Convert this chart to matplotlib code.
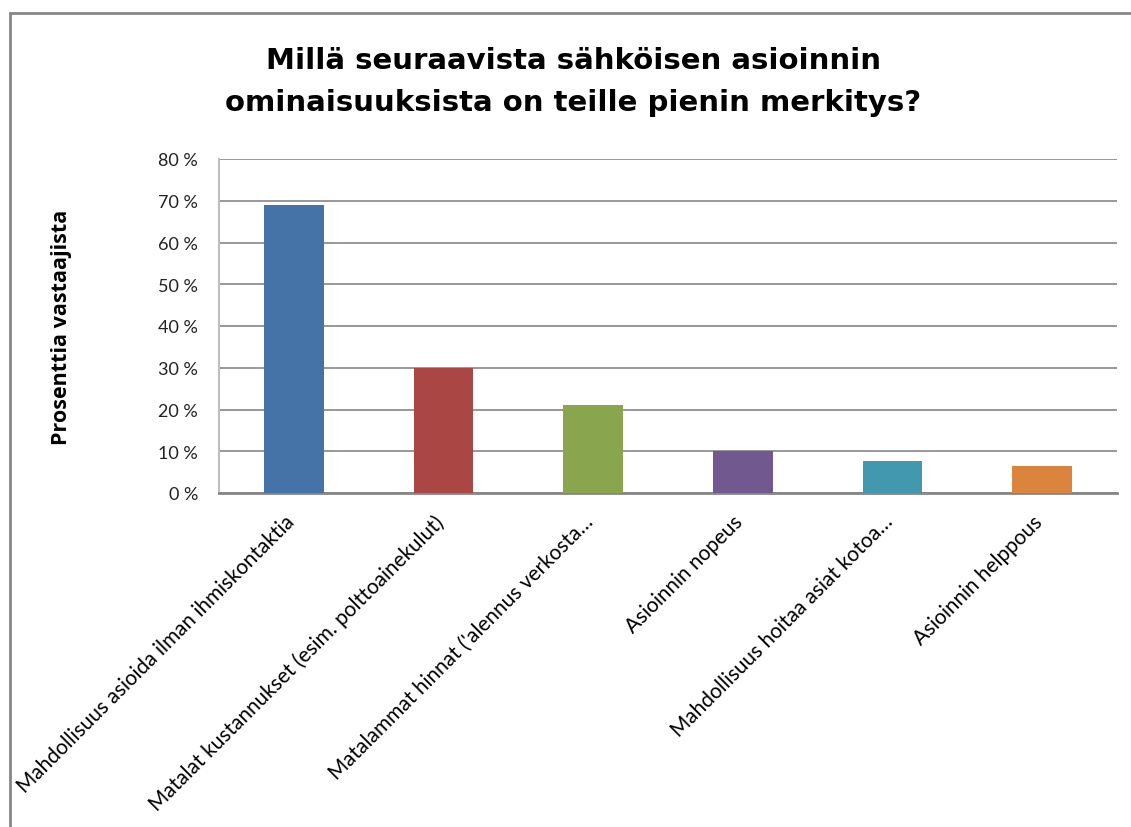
import matplotlib
matplotlib.use("Agg")
import matplotlib.pyplot as plt
from matplotlib.patches import Rectangle
from matplotlib.ticker import FuncFormatter
import matplotlib.transforms as mtransforms

categories = [
    "Mahdollisuus asioida ilman ihmiskontaktia",
    "Matalat kustannukset (esim. polttoainekulut)",
    "Matalammat hinnat ('alennus verkosta…",
    "Asioinnin nopeus",
    "Mahdollisuus hoitaa asiat kotoa…",
    "Asioinnin helppous",
]
values = [69.0, 30.0, 21.0, 10.0, 7.7, 6.5]
colors = ["#4572A7", "#AA4643", "#89A54E", "#71588F", "#4198AF", "#DB843D"]
yticks = [0, 10, 20, 30, 40, 50, 60, 70, 80]

title = "Millä seuraavista sähköisen asioinnin\nominaisuuksista on teille pienin merkitys?"
ylabel = "Prosenttia vastaajista"

W, H = 1131, 828
fig = plt.figure(figsize=(W / 100, H / 100), dpi=100)
fig.patch.set_facecolor("white")

# outer chart border
fig.add_artist(Rectangle((10 / W, -0.05), 1.2, 1 - 14 / H + 0.05,
                         transform=fig.transFigure, fill=False,
                         edgecolor="#868686", linewidth=2))

ax = fig.add_axes([219 / W, 1 - 494 / H, (1117 - 219) / W, (494 - 160) / H])
x = list(range(len(categories)))
ax.bar(x, values, width=0.4, color=colors, zorder=3)
ax.set_xlim(-0.5, len(categories) - 0.5)
ax.set_ylim(0, 80)
ax.set_yticks(yticks)
ax.yaxis.set_major_formatter(FuncFormatter(lambda v, p: f"{int(v)} %"))
ax.grid(axis="y", color="#868686", linewidth=1.2, zorder=0)
ax.set_axisbelow(True)
for s in ["top", "right"]:
    ax.spines[s].set_visible(False)
ax.spines["left"].set_color("#BFBFBF")
ax.spines["left"].set_linewidth(1.5)
ax.spines["bottom"].set_color("#868686")
ax.spines["bottom"].set_linewidth(2)
ax.tick_params(axis="y", length=0, pad=15, labelsize=13, labelcolor="#222222")
ax.tick_params(axis="x", length=0, pad=10)
for lab in ax.get_yticklabels():
    lab.set_fontfamily("Lato")

ax.set_xticks(x)
ax.set_xticklabels(categories, rotation=45, ha="right", va="top",
                   rotation_mode="anchor", fontsize=15, family="Lato")
offset = mtransforms.ScaledTranslation(-10 / 100, -4 / 100, fig.dpi_scale_trans)
for lab in ax.get_xticklabels():
    lab.set_transform(lab.get_transform() + offset)

ax.set_ylabel(ylabel, fontsize=15.5, fontweight="bold", family="Open Sans", labelpad=62)

fig.text(0.5 + 8 / W, 1 - 82 / H, title, ha="center", va="center",
         fontsize=21, fontweight="bold", family="DejaVu Sans", linespacing=1.6)

fig.savefig("out.png", dpi=100)
